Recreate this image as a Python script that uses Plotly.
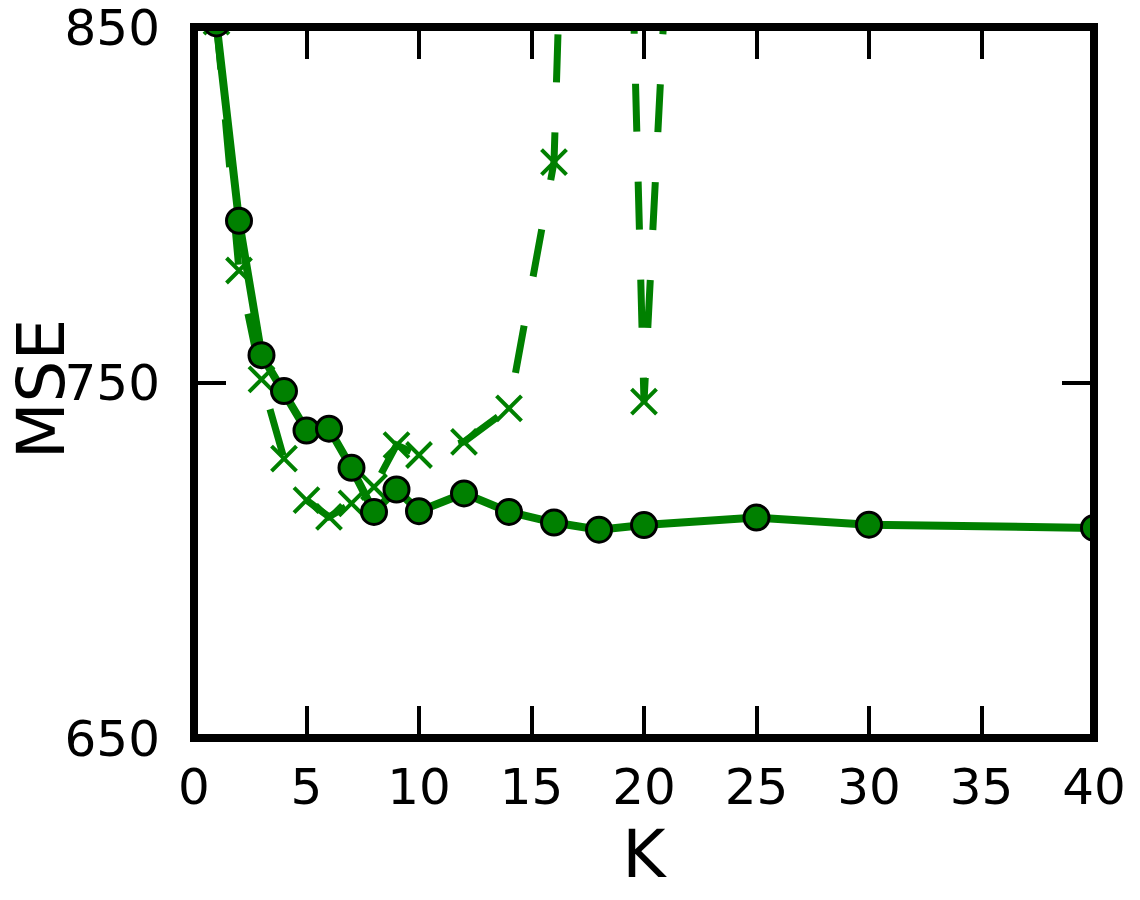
import plotly.graph_objects as go

# K values where the error was measured
k_values = [1, 2, 3, 4, 5, 6, 7, 8, 9, 10, 12, 14, 16, 18, 20, 25, 30, 40]
mse_solid = [851.0, 795.5, 757.7, 747.6, 736.5, 737.0, 726.0, 713.6, 719.9, 713.8,
             718.8, 713.6, 710.6, 708.6, 709.9, 712.0, 710.0, 709.1]

# dashed series (blows up past K=14, values above 850 are off the chart)
k_dashed = [1, 2, 3, 4, 5, 6, 7, 8, 9, 10, 12, 14, 16, 18, 20, 25]
mse_dashed = [851.5, 781.5, 750.9, 728.6, 716.9, 712.2, 716.0, 720.6, 732.4, 729.6,
              733.3, 742.7, 812.0, 1220.0, 744.6, 1360.0]

x_ticks = [0, 5, 10, 15, 20, 25, 30, 35, 40]
y_ticks = [650, 750, 850]

GREEN = "#008000"
FONT = "DejaVu Sans"

fig = go.Figure()
fig.add_trace(
    go.Scatter(
        x=k_dashed,
        y=mse_dashed,
        mode="lines+markers",
        line={"color": GREEN, "width": 7, "dash": "48px,50px"},
        marker={"symbol": "x-thin", "size": 25, "line": {"width": 4, "color": GREEN}},
        showlegend=False,
    )
)
fig.add_trace(
    go.Scatter(
        x=k_values,
        y=mse_solid,
        mode="lines+markers",
        line={"color": GREEN, "width": 8},
        marker={"symbol": "circle", "size": 25, "color": GREEN, "line": {"width": 3, "color": "black"}},
        showlegend=False,
    )
)

# frame drawn as a shape so its centre sits on the axis range ends (like matplotlib)
axis_common = dict(
    showline=False,
    mirror="ticks",
    ticks="inside",
    ticklen=32,
    tickwidth=3.5,
    tickcolor="black",
    showgrid=False,
    zeroline=False,
    automargin=False,
    ticklabeloverflow="allow",
    tickfont={"family": FONT, "size": 50, "color": "black"},
)

# the page body has an 8px default margin, so the figure is 8px smaller
fig.update_layout(
    width=1132,
    height=892,
    margin={"l": 186, "r": 46, "t": 19, "b": 162, "autoexpand": False},
    paper_bgcolor="white",
    plot_bgcolor="white",
    xaxis=dict(
        range=[0, 40],
        tickvals=x_ticks,
        ticklabelstandoff=15,
        title={"text": "K", "font": {"family": FONT, "size": 66, "color": "black"}, "standoff": 10},
        **axis_common,
    ),
    yaxis=dict(range=[650, 850], tickvals=y_ticks, ticklabelstandoff=33, **axis_common),
    shapes=[
        dict(
            type="rect",
            xref="paper",
            yref="paper",
            x0=0,
            x1=1,
            y0=0,
            y1=1,
            line={"color": "black", "width": 8},
            layer="above",
        )
    ],
    annotations=[
        dict(
            text="MSE",
            xref="paper",
            yref="paper",
            x=-0.169,
            y=0.4916,
            xanchor="center",
            yanchor="middle",
            showarrow=False,
            textangle=-90,
            font={"family": FONT, "size": 66, "color": "black"},
        )
    ],
)

fig.write_html("out.html")
